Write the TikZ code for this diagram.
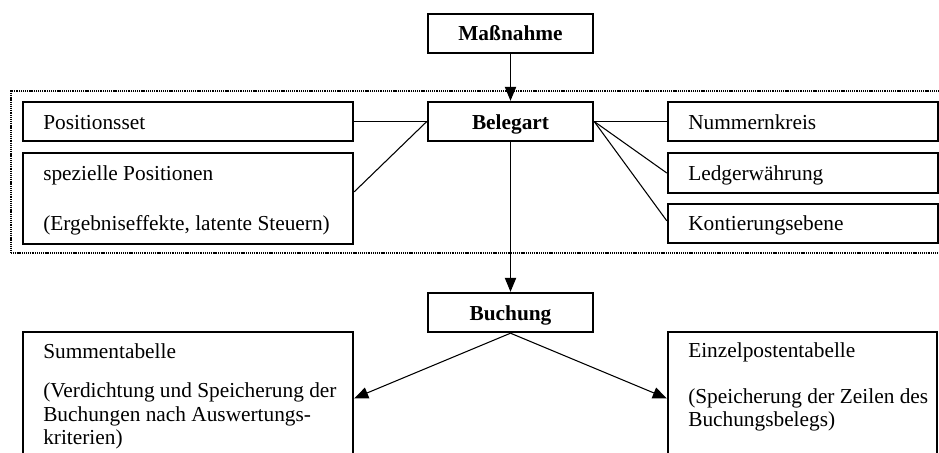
\documentclass[tikz,border=0pt]{standalone}
\usepackage{fontspec}
\setmainfont{Liberation Serif}
\usetikzlibrary{arrows.meta,fit}
\begin{document}
\begin{tikzpicture}[x=0.75pt,y=-0.75pt,
  box/.style={draw, line width=1.8pt, rectangle, inner sep=0pt},
  link/.style={line width=0.8pt},
  flow/.style={link, -{Triangle[width=8.5pt,length=10.5pt]}},
  txt/.style={inner sep=0pt, anchor=base west, font=\fontsize{16pt}{18pt}\selectfont},
  head/.style={inner sep=0pt, anchor=base, font=\fontsize{16pt}{18pt}\selectfont\bfseries},
  group/.style={draw, line width=1pt, dash pattern=on 0.8pt off 0.6pt, inner sep=0pt}]
\useasboundingbox (0,0) rectangle (939,453);
\clip (0,0) rectangle (939,453);

% dotted frame around the document type settings
\node[group, fit={(11,91) (980,253)}] (zone) {};

% boxes
\node[box, fit={(428,14) (593,53)}] (mass) {};
\node[box, fit={(428,102) (593,141)}] (beleg) {};
\node[box, fit={(428,293) (593,332)}] (buch) {};
\node[box, fit={(23,102) (353,141)}] (pos) {};
\node[box, fit={(23,153) (353,244)}] (spez) {};
\node[box, fit={(668,102) (938,141)}] (numm) {};
\node[box, fit={(668,153) (938,193)}] (ledger) {};
\node[box, fit={(668,204) (938,243)}] (kont) {};
\node[box, fit={(23,332) (353,470)}] (summ) {};
\node[box, fit={(668,332) (937,470)}] (einz) {};

% labels
\node[head] (tmass) at (510.5,41) {Maßnahme};
\node[head] (tbeleg) at (510.5,129) {Belegart};
\node[head] (tbuch) at (510.5,320) {Buchung};
\node[txt] (tpos) at (43,129) {Positionsset};
\node[txt] (tspez1) at (43,180) {spezielle Positionen};
\node[txt] (tspez2) at (43,230) {(Ergebniseffekte, latente Steuern)};
\node[txt] (tnumm) at (688,129) {Nummernkreis};
\node[txt] (tledger) at (688,180) {Ledgerwährung};
\node[txt] (tkont) at (688,230) {Kontierungsebene};
\node[txt] (tsumm1) at (43,358) {Summentabelle};
\node[txt] (tsumm2) at (43,397) {(Verdichtung und Speicherung der};
\node[txt] (tsumm3) at (43,421) {Buchungen nach Auswertungs-};
\node[txt] (tsumm4) at (43,444) {kriterien)};
\node[txt] (teinz1) at (688,357) {Einzelpostentabelle};
\node[txt] (teinz2) at (688,403) {(Speicherung der Zeilen des};
\node[txt] (teinz3) at (688,426) {Buchungsbelegs)};

% connectors
\draw[flow] (mass.south) -- (beleg.north);
\draw[link] (pos.east) -- (beleg.west);
\draw[link] ([yshift=5pt]spez.east) -- (beleg.west);
\draw[link] (beleg.east) -- (numm.west);
\draw[link] (beleg.east) -- (ledger.west);
\draw[link] (beleg.east) -- ([yshift=2pt]kont.west);
\draw[flow] (beleg.south) -- (buch.north);
\draw[flow] (buch.south) -- ([yshift=2pt]summ.east);
\draw[flow] (buch.south) -- ([yshift=2pt]einz.west);
\end{tikzpicture}
\end{document}
